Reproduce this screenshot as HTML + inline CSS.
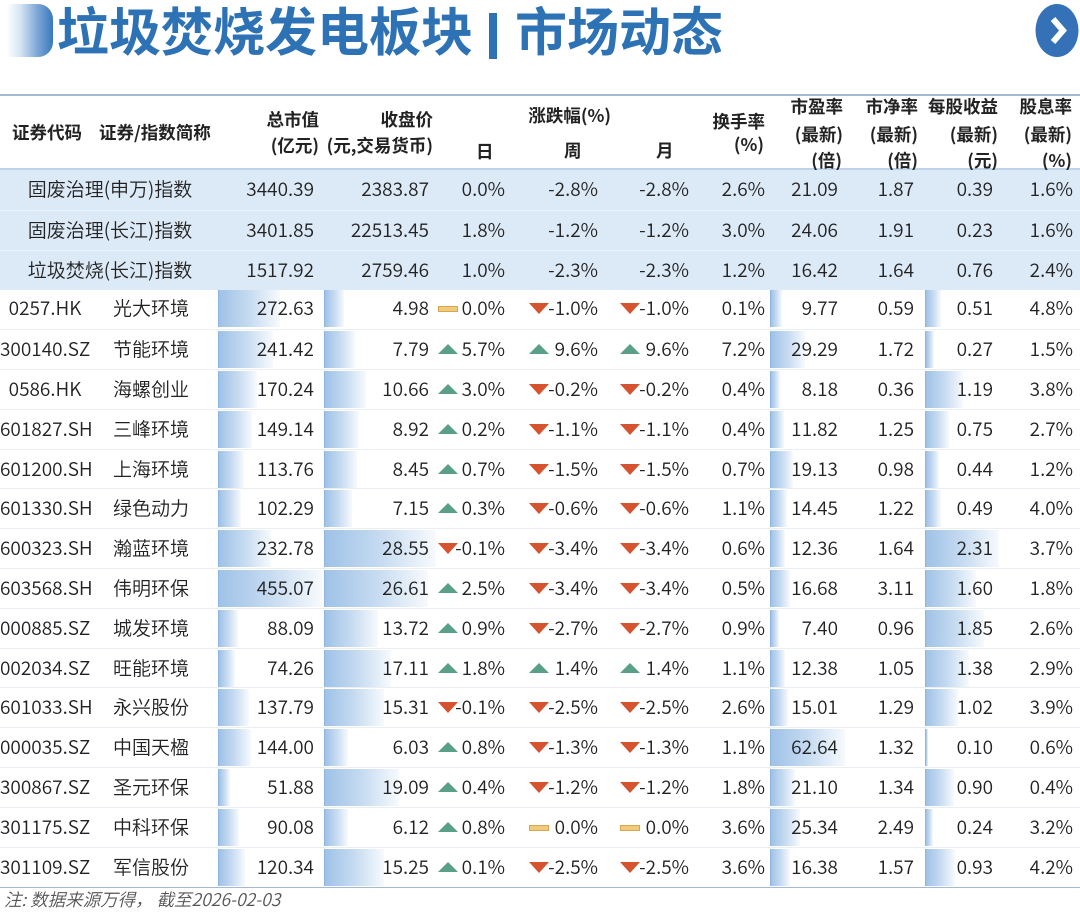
<!DOCTYPE html>
<html><head><meta charset="utf-8">
<style>
html,body{margin:0;padding:0;background:#fff;}
body{width:1080px;height:915px;position:relative;overflow:hidden;font-family:"Noto Sans CJK SC","Liberation Sans",sans-serif;color:#222;}
.abs{position:absolute;white-space:nowrap;}
.title{position:absolute;top:-2px;height:62px;line-height:62px;font-size:52px;font-weight:700;color:#2e72b6;white-space:nowrap;letter-spacing:0;}
.h{position:absolute;font-size:17.5px;font-weight:700;color:#222;line-height:22px;white-space:nowrap;}
.hr{text-align:right;}
.r{position:absolute;left:0;width:1080px;height:40px;}
.c{position:absolute;top:0;line-height:38px;height:40px;white-space:nowrap;font-size:19px;font-weight:350;color:#222;}
.mv{right:766px}.px{right:651px}.dd{right:575px}.ww{right:482px}.mm{right:391px}
.to{right:315px}.pe{right:242px}.pb{right:166px}.ep{right:87px}.dy{right:7px}
.cd{left:0;width:90px;text-align:center}
.nm{left:113px}
.ix{left:0;width:220px;text-align:center}
.idx{background:#dce9f6;}
.sep{border-top:1px solid #eaedf1;box-sizing:border-box;}
.isep{border-top:1px solid #ecf3fa;box-sizing:border-box;}
.bar{position:absolute;top:1px;height:37px;background:linear-gradient(90deg,#9fc2e7 0%,#c6dbf1 50%,#f7fafd 100%);border-left:1px solid #8eb5df;box-sizing:border-box;}
.u,.d,.f{position:absolute;width:0;height:0;}
.u{top:14px;border-left:10px solid transparent;border-right:10px solid transparent;border-bottom:10px solid #5a9f88;}
.d{top:14px;border-left:10px solid transparent;border-right:10px solid transparent;border-top:11px solid #d5532e;}
.f{top:17px;width:18px;height:4px;background:#f2ca7c;border:1px solid #d8a653;}
.i1{left:438px}.i2{left:529px}.i3{left:620px}
</style></head>
<body>
<div class="abs" style="left:7px;top:4px;width:46px;height:53px;border-radius:0 15px 15px 0;background:linear-gradient(90deg,#ffffff 0%,#d3e3f3 30%,#7fa9d8 65%,#3a78bd 100%);"></div>
<div class="title" style="left:57px;">垃圾焚烧发电板块</div>
<div class="abs" style="left:489px;top:13px;width:8px;height:46px;background:#2e72b6;"></div>
<div class="title" style="left:515px;">市场动态</div>
<svg class="abs" style="left:1030px;top:0px;" width="50" height="62" viewBox="0 0 50 62">
<ellipse cx="27" cy="30.5" rx="21.5" ry="26.5" fill="#3571b6"/>
<polyline points="23,19 33,30.5 23,42" fill="none" stroke="#fff" stroke-width="6" stroke-linejoin="miter"/>
</svg>

<div class="abs" style="left:0;top:94px;width:1080px;height:1.5px;background:#a3b9d4;"></div>
<div class="abs" style="left:0;top:168px;width:1080px;height:2px;background:#bfd2e7;"></div>

<div class="h" style="left:12px;top:122px;">证券代码</div>
<div class="h" style="left:99px;top:122px;">证券/指数简称</div>
<div class="h hr" style="right:761px;top:109px;">总市值</div>
<div class="h hr" style="right:761px;top:135px;">(亿元)</div>
<div class="h hr" style="right:647px;top:109px;">收盘价</div>
<div class="h hr" style="right:647px;top:135px;">(元,交易货币)</div>
<div class="h" style="left:476px;top:141px;">日</div>
<div class="h hr" style="right:469px;top:105px;">涨跌幅(%)</div>
<div class="h" style="left:564px;top:140px;">周</div>
<div class="h" style="left:656px;top:140px;">月</div>
<div class="h hr" style="right:315px;top:111px;">换手率</div>
<div class="h hr" style="right:316px;top:134px;">(%)</div>
<div class="h hr" style="right:237px;top:96px;">市盈率</div>
<div class="h hr" style="right:237px;top:124px;">(最新)</div>
<div class="h hr" style="right:238px;top:150px;">(倍)</div>
<div class="h hr" style="right:162px;top:96px;">市净率</div>
<div class="h hr" style="right:162px;top:124px;">(最新)</div>
<div class="h hr" style="right:162px;top:150px;">(倍)</div>
<div class="h hr" style="right:82px;top:96px;">每股收益</div>
<div class="h hr" style="right:82px;top:124px;">(最新)</div>
<div class="h hr" style="right:82px;top:150px;">(元)</div>
<div class="h hr" style="right:8px;top:96px;">股息率</div>
<div class="h hr" style="right:8px;top:124px;">(最新)</div>
<div class="h hr" style="right:8px;top:150px;">(%)</div>

<div class="r idx" style="top:170px;">
<div class="c ix">固废治理(申万)指数</div><div class="c mv">3440.39</div><div class="c px">2383.87</div><div class="c dd">0.0%</div><div class="c ww">-2.8%</div><div class="c mm">-2.8%</div><div class="c to">2.6%</div><div class="c pe">21.09</div><div class="c pb">1.87</div><div class="c ep">0.39</div><div class="c dy">1.6%</div>
</div>
<div class="r idx isep" style="top:209.8px;">
<div class="c ix">固废治理(长江)指数</div><div class="c mv">3401.85</div><div class="c px">22513.45</div><div class="c dd">1.8%</div><div class="c ww">-1.2%</div><div class="c mm">-1.2%</div><div class="c to">3.0%</div><div class="c pe">24.06</div><div class="c pb">1.91</div><div class="c ep">0.23</div><div class="c dy">1.6%</div>
</div>
<div class="r idx isep" style="top:249.6px;">
<div class="c ix">垃圾焚烧(长江)指数</div><div class="c mv">1517.92</div><div class="c px">2759.46</div><div class="c dd">1.0%</div><div class="c ww">-2.3%</div><div class="c mm">-2.3%</div><div class="c to">1.2%</div><div class="c pe">16.42</div><div class="c pb">1.64</div><div class="c ep">0.76</div><div class="c dy">2.4%</div>
</div>

<div class="r" style="top:289.4px;">
<div class="bar" style="left:218px;width:62px"></div><div class="bar" style="left:324px;width:20px"></div><div class="bar" style="left:770px;width:12px"></div><div class="bar" style="left:925px;width:16px"></div>
<div class="c cd">0257.HK</div><div class="c nm">光大环境</div><div class="c mv">272.63</div><div class="c px">4.98</div>
<div class="f i1"></div><div class="c dd">0.0%</div><div class="d i2"></div><div class="c ww">-1.0%</div><div class="d i3"></div><div class="c mm">-1.0%</div>
<div class="c to">0.1%</div><div class="c pe">9.77</div><div class="c pb">0.59</div><div class="c ep">0.51</div><div class="c dy">4.8%</div>
</div>
<div class="r sep" style="top:329.2px;">
<div class="bar" style="left:218px;width:55px"></div><div class="bar" style="left:324px;width:31px"></div><div class="bar" style="left:770px;width:35px"></div><div class="bar" style="left:925px;width:9px"></div>
<div class="c cd">300140.SZ</div><div class="c nm">节能环境</div><div class="c mv">241.42</div><div class="c px">7.79</div>
<div class="u i1"></div><div class="c dd">5.7%</div><div class="u i2"></div><div class="c ww">9.6%</div><div class="u i3"></div><div class="c mm">9.6%</div>
<div class="c to">7.2%</div><div class="c pe">29.29</div><div class="c pb">1.72</div><div class="c ep">0.27</div><div class="c dy">1.5%</div>
</div>
<div class="r sep" style="top:369px;">
<div class="bar" style="left:218px;width:39px"></div><div class="bar" style="left:324px;width:42px"></div><div class="bar" style="left:770px;width:10px"></div><div class="bar" style="left:925px;width:38px"></div>
<div class="c cd">0586.HK</div><div class="c nm">海螺创业</div><div class="c mv">170.24</div><div class="c px">10.66</div>
<div class="u i1"></div><div class="c dd">3.0%</div><div class="d i2"></div><div class="c ww">-0.2%</div><div class="d i3"></div><div class="c mm">-0.2%</div>
<div class="c to">0.4%</div><div class="c pe">8.18</div><div class="c pb">0.36</div><div class="c ep">1.19</div><div class="c dy">3.8%</div>
</div>
<div class="r sep" style="top:408.8px;">
<div class="bar" style="left:218px;width:34px"></div><div class="bar" style="left:324px;width:35px"></div><div class="bar" style="left:770px;width:14px"></div><div class="bar" style="left:925px;width:24px"></div>
<div class="c cd">601827.SH</div><div class="c nm">三峰环境</div><div class="c mv">149.14</div><div class="c px">8.92</div>
<div class="u i1"></div><div class="c dd">0.2%</div><div class="d i2"></div><div class="c ww">-1.1%</div><div class="d i3"></div><div class="c mm">-1.1%</div>
<div class="c to">0.4%</div><div class="c pe">11.82</div><div class="c pb">1.25</div><div class="c ep">0.75</div><div class="c dy">2.7%</div>
</div>
<div class="r sep" style="top:448.6px;">
<div class="bar" style="left:218px;width:26px"></div><div class="bar" style="left:324px;width:33px"></div><div class="bar" style="left:770px;width:23px"></div><div class="bar" style="left:925px;width:14px"></div>
<div class="c cd">601200.SH</div><div class="c nm">上海环境</div><div class="c mv">113.76</div><div class="c px">8.45</div>
<div class="u i1"></div><div class="c dd">0.7%</div><div class="d i2"></div><div class="c ww">-1.5%</div><div class="d i3"></div><div class="c mm">-1.5%</div>
<div class="c to">0.7%</div><div class="c pe">19.13</div><div class="c pb">0.98</div><div class="c ep">0.44</div><div class="c dy">1.2%</div>
</div>
<div class="r sep" style="top:488.4px;">
<div class="bar" style="left:218px;width:23px"></div><div class="bar" style="left:324px;width:28px"></div><div class="bar" style="left:770px;width:17px"></div><div class="bar" style="left:925px;width:16px"></div>
<div class="c cd">601330.SH</div><div class="c nm">绿色动力</div><div class="c mv">102.29</div><div class="c px">7.15</div>
<div class="u i1"></div><div class="c dd">0.3%</div><div class="d i2"></div><div class="c ww">-0.6%</div><div class="d i3"></div><div class="c mm">-0.6%</div>
<div class="c to">1.1%</div><div class="c pe">14.45</div><div class="c pb">1.22</div><div class="c ep">0.49</div><div class="c dy">4.0%</div>
</div>
<div class="r sep" style="top:528.2px;">
<div class="bar" style="left:218px;width:53px"></div><div class="bar" style="left:324px;width:112px"></div><div class="bar" style="left:770px;width:15px"></div><div class="bar" style="left:925px;width:74px"></div>
<div class="c cd">600323.SH</div><div class="c nm">瀚蓝环境</div><div class="c mv">232.78</div><div class="c px">28.55</div>
<div class="d i1"></div><div class="c dd">-0.1%</div><div class="d i2"></div><div class="c ww">-3.4%</div><div class="d i3"></div><div class="c mm">-3.4%</div>
<div class="c to">0.6%</div><div class="c pe">12.36</div><div class="c pb">1.64</div><div class="c ep">2.31</div><div class="c dy">3.7%</div>
</div>
<div class="r sep" style="top:568px;">
<div class="bar" style="left:218px;width:104px"></div><div class="bar" style="left:324px;width:104px"></div><div class="bar" style="left:770px;width:20px"></div><div class="bar" style="left:925px;width:51px"></div>
<div class="c cd">603568.SH</div><div class="c nm">伟明环保</div><div class="c mv">455.07</div><div class="c px">26.61</div>
<div class="u i1"></div><div class="c dd">2.5%</div><div class="d i2"></div><div class="c ww">-3.4%</div><div class="d i3"></div><div class="c mm">-3.4%</div>
<div class="c to">0.5%</div><div class="c pe">16.68</div><div class="c pb">3.11</div><div class="c ep">1.60</div><div class="c dy">1.8%</div>
</div>
<div class="r sep" style="top:607.8px;">
<div class="bar" style="left:218px;width:20px"></div><div class="bar" style="left:324px;width:54px"></div><div class="bar" style="left:770px;width:9px"></div><div class="bar" style="left:925px;width:59px"></div>
<div class="c cd">000885.SZ</div><div class="c nm">城发环境</div><div class="c mv">88.09</div><div class="c px">13.72</div>
<div class="u i1"></div><div class="c dd">0.9%</div><div class="d i2"></div><div class="c ww">-2.7%</div><div class="d i3"></div><div class="c mm">-2.7%</div>
<div class="c to">0.9%</div><div class="c pe">7.40</div><div class="c pb">0.96</div><div class="c ep">1.85</div><div class="c dy">2.6%</div>
</div>
<div class="r sep" style="top:647.6px;">
<div class="bar" style="left:218px;width:17px"></div><div class="bar" style="left:324px;width:67px"></div><div class="bar" style="left:770px;width:15px"></div><div class="bar" style="left:925px;width:44px"></div>
<div class="c cd">002034.SZ</div><div class="c nm">旺能环境</div><div class="c mv">74.26</div><div class="c px">17.11</div>
<div class="u i1"></div><div class="c dd">1.8%</div><div class="u i2"></div><div class="c ww">1.4%</div><div class="u i3"></div><div class="c mm">1.4%</div>
<div class="c to">1.1%</div><div class="c pe">12.38</div><div class="c pb">1.05</div><div class="c ep">1.38</div><div class="c dy">2.9%</div>
</div>
<div class="r sep" style="top:687.4px;">
<div class="bar" style="left:218px;width:31px"></div><div class="bar" style="left:324px;width:60px"></div><div class="bar" style="left:770px;width:18px"></div><div class="bar" style="left:925px;width:33px"></div>
<div class="c cd">601033.SH</div><div class="c nm">永兴股份</div><div class="c mv">137.79</div><div class="c px">15.31</div>
<div class="d i1"></div><div class="c dd">-0.1%</div><div class="d i2"></div><div class="c ww">-2.5%</div><div class="d i3"></div><div class="c mm">-2.5%</div>
<div class="c to">2.6%</div><div class="c pe">15.01</div><div class="c pb">1.29</div><div class="c ep">1.02</div><div class="c dy">3.9%</div>
</div>
<div class="r sep" style="top:727.2px;">
<div class="bar" style="left:218px;width:33px"></div><div class="bar" style="left:324px;width:24px"></div><div class="bar" style="left:770px;width:75px"></div><div class="bar" style="left:925px;width:3px"></div>
<div class="c cd">000035.SZ</div><div class="c nm">中国天楹</div><div class="c mv">144.00</div><div class="c px">6.03</div>
<div class="u i1"></div><div class="c dd">0.8%</div><div class="d i2"></div><div class="c ww">-1.3%</div><div class="d i3"></div><div class="c mm">-1.3%</div>
<div class="c to">1.1%</div><div class="c pe">62.64</div><div class="c pb">1.32</div><div class="c ep">0.10</div><div class="c dy">0.6%</div>
</div>
<div class="r sep" style="top:767px;">
<div class="bar" style="left:218px;width:12px"></div><div class="bar" style="left:324px;width:75px"></div><div class="bar" style="left:770px;width:25px"></div><div class="bar" style="left:925px;width:29px"></div>
<div class="c cd">300867.SZ</div><div class="c nm">圣元环保</div><div class="c mv">51.88</div><div class="c px">19.09</div>
<div class="u i1"></div><div class="c dd">0.4%</div><div class="d i2"></div><div class="c ww">-1.2%</div><div class="d i3"></div><div class="c mm">-1.2%</div>
<div class="c to">1.8%</div><div class="c pe">21.10</div><div class="c pb">1.34</div><div class="c ep">0.90</div><div class="c dy">0.4%</div>
</div>
<div class="r sep" style="top:806.8px;">
<div class="bar" style="left:218px;width:21px"></div><div class="bar" style="left:324px;width:24px"></div><div class="bar" style="left:770px;width:30px"></div><div class="bar" style="left:925px;width:8px"></div>
<div class="c cd">301175.SZ</div><div class="c nm">中科环保</div><div class="c mv">90.08</div><div class="c px">6.12</div>
<div class="u i1"></div><div class="c dd">0.8%</div><div class="f i2"></div><div class="c ww">0.0%</div><div class="f i3"></div><div class="c mm">0.0%</div>
<div class="c to">3.6%</div><div class="c pe">25.34</div><div class="c pb">2.49</div><div class="c ep">0.24</div><div class="c dy">3.2%</div>
</div>
<div class="r sep" style="top:846.6px;">
<div class="bar" style="left:218px;width:27px"></div><div class="bar" style="left:324px;width:60px"></div><div class="bar" style="left:770px;width:20px"></div><div class="bar" style="left:925px;width:30px"></div>
<div class="c cd">301109.SZ</div><div class="c nm">军信股份</div><div class="c mv">120.34</div><div class="c px">15.25</div>
<div class="u i1"></div><div class="c dd">0.1%</div><div class="d i2"></div><div class="c ww">-2.5%</div><div class="d i3"></div><div class="c mm">-2.5%</div>
<div class="c to">3.6%</div><div class="c pe">16.38</div><div class="c pb">1.57</div><div class="c ep">0.93</div><div class="c dy">4.2%</div>
</div>

<div class="abs" style="left:0;top:886.5px;width:1080px;height:1.5px;background:#a3b9d4;"></div>
<div class="abs" style="left:4px;top:888px;line-height:24px;font-size:17.5px;font-weight:350;font-style:italic;color:#555;">注: 数据来源万得， 截至2026-02-03</div>
</body></html>
